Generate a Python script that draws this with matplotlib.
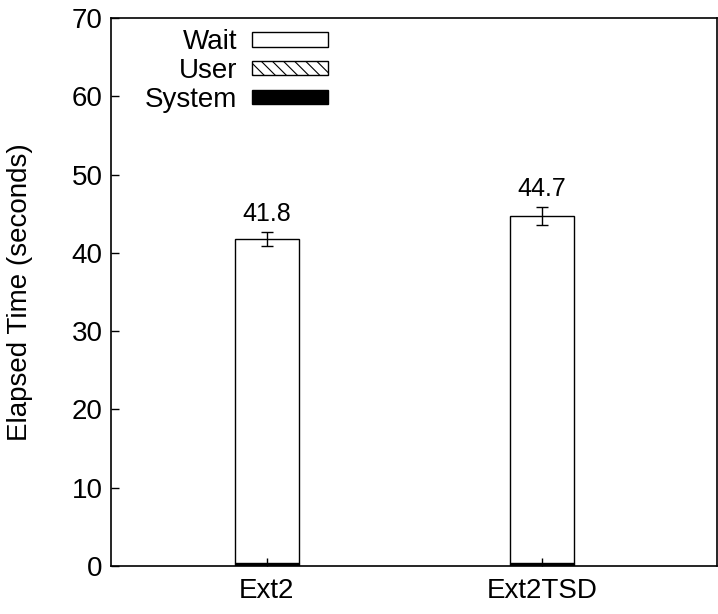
import numpy as np
import matplotlib.pyplot as plt
from matplotlib.patches import Patch

plt.rcParams['font.family'] = ['Liberation Sans', 'DejaVu Sans']
plt.rcParams['hatch.linewidth'] = 0.8

# elapsed time breakdown per file system
systems = ['Ext2', 'Ext2TSD']
total = np.array([41.8, 44.7])
err = np.array([0.9, 1.15])
sys_time = np.array([0.3, 0.3])
user_time = np.array([0.1, 0.1])
wait_time = total - sys_time - user_time

fig = plt.figure(figsize=(7.18, 6.14), dpi=100)
ax = fig.add_axes([0.1546, 0.0782, 0.844, 0.8925])

x = np.arange(1, len(systems) + 1)
w = 0.233

ax.bar(x, sys_time, w, color='black', edgecolor='black', linewidth=1)
ax.bar(x, user_time, w, bottom=sys_time, color='white', edgecolor='black',
       hatch='\\\\\\', linewidth=1)
ax.bar(x, wait_time, w, bottom=sys_time + user_time, color='white',
       edgecolor='black', linewidth=1)
ax.errorbar(x, total, yerr=err, fmt='none', ecolor='black', elinewidth=1,
            capsize=4, capthick=1)

for xi, t, e in zip(x, total, err):
    ax.annotate(f'{t:.1f}', (xi, t + e), xytext=(0, 4), textcoords='offset points',
                ha='center', va='bottom', fontsize=18)

ax.set_xlim(0.433, 2.637)
ax.set_ylim(0, 70)
ax.set_yticks(np.arange(0, 71, 10))
ax.set_xticks(x)
ax.set_xticklabels(systems)
ax.tick_params(axis='both', direction='in', labelsize=20, length=6, width=1)
ax.tick_params(axis='x', pad=9)
ax.tick_params(axis='y', pad=6)
ax.set_ylabel('Elapsed Time (seconds)', fontsize=20)
ax.yaxis.set_label_coords(-0.128, 0.5)

for s in ax.spines.values():
    s.set_linewidth(1.2)

handles = [Patch(facecolor='white', edgecolor='black', label='Wait'),
           Patch(facecolor='white', edgecolor='black', hatch='\\\\\\', label='User'),
           Patch(facecolor='black', edgecolor='black', label='System')]
ax.legend(handles=handles, loc='upper right', bbox_to_anchor=(0.381, 1.005),
          frameon=False, markerfirst=False, fontsize=20, handlelength=2.73,
          handleheight=0.43, handletextpad=0.54, labelspacing=0.1,
          borderaxespad=0.1)

fig.savefig('out.png', dpi=100)
